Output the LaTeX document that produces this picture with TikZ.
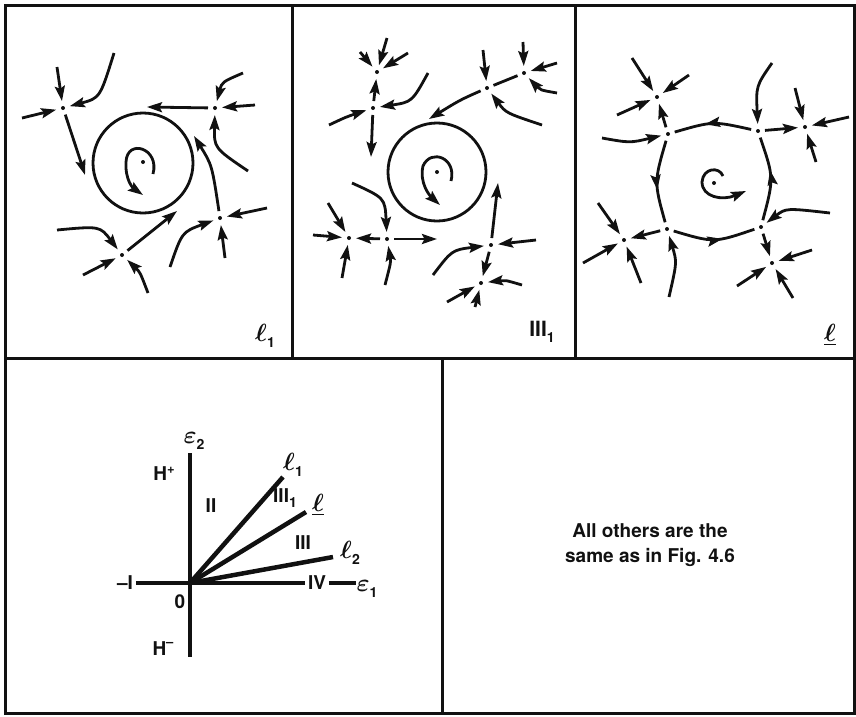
\documentclass[tikz,border=0pt]{standalone}
\usepackage{amsmath}
\usepackage{amssymb}
\usepackage{fontspec}
\setsansfont{TeX Gyre Heros}
\usepackage{tikz}
\usetikzlibrary{arrows.meta,decorations.markings,calc}
\definecolor{pen}{HTML}{111111}
\newcommand{\lowsub}[2]{#1\raisebox{-.55ex}{\fontsize{14}{14}\selectfont\sffamily\bfseries #2}}
\tikzset{
  >={Stealth[length=15pt,width=10pt,inset=2.5pt]},
  % --- frame and curves
  frame/.style = {line width=3pt, draw=pen},
  cyc/.style   = {line width=2.8pt, draw=pen},
  ax/.style    = {line width=4.5pt, draw=pen},
  % --- points
  sp/.style    = {circle, fill=pen, inner sep=0pt, minimum size=4pt, outer sep=5pt},
  % --- trajectories
  traj/.style  = {->, line width=2.8pt, draw=pen},
  conn/.style  = {line width=2.8pt, draw=pen},
  midar/.style = {conn, postaction={decorate},
                  decoration={markings, mark=at position 0.6 with {\arrow{>}}}},
  % --- text
  lbl/.style   = {font=\fontsize{19}{21}\selectfont\sffamily\bfseries, text=pen,
                  inner sep=1pt, outer sep=2pt},
  mlbl/.style  = {font=\fontsize{23}{25}\selectfont\boldmath, text=pen, inner sep=0.5pt},
}
\begin{document}
\begin{tikzpicture}[x=1pt,y=-1pt]
  \useasboundingbox (0,0) rectangle (856,716);
  % frame
  \draw[frame] (5,5) rectangle (854,713);
  \draw[frame] (5,358) -- (854,358);
  \draw[frame] (292,5) -- (292,358);
  \draw[frame] (575,5) -- (575,358);
  \draw[frame] (442,358) -- (442,713);

  % --- panel l_1
  \draw[cyc] (143,163) circle[radius=50];
  \node[sp] (fa) at (143,162) {};
  \draw[traj] (153,174) .. controls (160,148) and (127,138) .. (126,162)
                        .. controls (125,180) and (133,188) .. (143,195);
  \node[sp] (a1) at (63,108) {};
  \node[sp] (a2) at (215,108) {};
  \node[sp] (a3) at (220,218) {};
  \node[sp] (a4) at (122,255) {};
  \draw[traj] (57,67) -- (a1);
  \draw[traj] (114,53) .. controls (100,98) .. (a1);
  \draw[traj] (22,118) -- (a1);
  \draw[traj] (a1) .. controls (74,140) .. (85,175);
  \draw[traj] (a2) -- (147,107);
  \draw[traj] (243,73) .. controls (222,82) .. (a2);
  \draw[traj] (255,105) -- (a2);
  \draw[traj] (248,171) .. controls (214,148) .. (a2);
  \draw[traj] (a3) .. controls (212,165) .. (194,136);
  \draw[traj] (267,208) -- (a3);
  \draw[traj] (225,258) -- (a3);
  \draw[traj] (170,267) .. controls (182,232) .. (a3);
  \draw[traj] (a4) -- (177,211);
  \draw[traj] (57,230) .. controls (100,226) .. (a4);
  \draw[traj] (83,275) -- (a4);
  \draw[traj] (148,293) .. controls (140,272) .. (a4);
  \node[mlbl] (la) at (265,336) {\lowsub{$\ell$}{1}};

  % --- panel III_1
  \draw[cyc] (437,172) circle[radius=49];
  \node[sp] (fb) at (437,172) {};
  \draw[traj] (451,181) .. controls (457,158) and (431,148) .. (423,166)
                        .. controls (419,183) and (430,196) .. (440,205);
  \node[sp] (bA) at (377,72) {};
  \node[sp] (bB) at (373,108) {};
  \node[sp] (bC) at (487,88) {};
  \node[sp] (bD) at (524,73) {};
  \node[sp] (bE) at (349,238) {};
  \node[sp] (bF) at (387,239) {};
  \node[sp] (bG) at (491,245) {};
  \node[sp] (bH) at (481,283) {};
  \draw[traj] (387,38) -- (bA);
  \draw[traj] (360,52) -- (bA);
  \draw[traj] (408,53) -- (bA);
  \draw[traj] (bB) -- (bA);
  \draw[traj] (bB) -- (371,157);
  \draw[traj] (428,73) .. controls (412,102) .. (bB);
  \draw[traj] (329,125) .. controls (346,117) .. (bB);
  \draw[traj] (bC) .. controls (460,100) .. (429,119);
  \draw[conn] (bC) -- (bD);
  \draw[traj] (483,50) -- (bC);
  \draw[traj] (542,125) .. controls (506,113) .. (bC);
  \draw[traj] (523,42) -- (bD);
  \draw[traj] (557,63) -- (bD);
  \draw[traj] (557,93) .. controls (540,90) .. (bD);
  \draw[traj] (313,235) -- (bE);
  \draw[traj] (328,203) -- (bE);
  \draw[traj] (342,278) -- (bE);
  \draw[traj] (bF) -- (bE);
  \draw[traj] (bF) -- (437,239);
  \draw[traj] (352,183) .. controls (385,198) .. (bF);
  \draw[traj] (385,285) .. controls (391,262) .. (bF);
  \draw[traj] (bG) -- (498,183);
  \draw[traj] (bG) -- (bH);
  \draw[traj] (536,240) -- (bG);
  \draw[traj] (433,275) .. controls (452,250) .. (bG);
  \draw[traj] (522,285) .. controls (505,280) .. (bH);
  \draw[traj] (447,302) -- (bH);
  \draw[traj] (475,307) -- (bH);
  \node[lbl] (lb) at (542,332) {\fontsize{21}{21}\selectfont III\raisebox{-.5ex}{\fontsize{14}{14}\selectfont 1}};

  % --- panel l
  \node[sp] (fc) at (714,183) {};
  \draw[traj] (723,176) .. controls (719,166) and (703,168) .. (702,182)
                        .. controls (702,197) and (722,201) .. (746,191);
  \node[sp] (c1) at (668,134) {};
  \node[sp] (c2) at (758,131) {};
  \node[sp] (c3) at (667,229) {};
  \node[sp] (c4) at (761,227) {};
  \node[sp] (n1) at (657,97) {};
  \node[sp] (n2) at (805,127) {};
  \node[sp] (n3) at (624,240) {};
  \node[sp] (n4) at (772,263) {};
  \draw[midar] (c2) .. controls (713,121) .. (c1);
  \draw[midar] (c1) .. controls (654,182) .. (c3);
  \draw[midar] (c3) .. controls (714,243) .. (c4);
  \draw[midar] (c4) .. controls (774,178) .. (c2);
  \draw[traj] (c1) -- (n1);
  \draw[traj] (c2) -- (n2);
  \draw[traj] (c3) -- (n3);
  \draw[traj] (c4) -- (n4);
  \draw[traj] (602,138) .. controls (630,143) .. (c1);
  \draw[traj] (772,63) .. controls (756,86) .. (c2);
  \draw[traj] (669,297) .. controls (677,262) .. (c3);
  \draw[traj] (830,213) .. controls (786,208) .. (c4);
  \draw[traj] (632,58) -- (n1);
  \draw[traj] (689,75) -- (n1);
  \draw[traj] (617,115) -- (n1);
  \draw[traj] (795,88) -- (n2);
  \draw[traj] (849,117) -- (n2);
  \draw[traj] (816,162) -- (n2);
  \draw[traj] (598,203) -- (n3);
  \draw[traj] (583,263) -- (n3);
  \draw[traj] (641,283) -- (n3);
  \draw[traj] (812,250) -- (n4);
  \draw[traj] (737,286) -- (n4);
  \draw[traj] (793,298) -- (n4);
  \node[mlbl] (lc) at (830,335) {\underline{$\ell$}};

  % --- bifurcation diagram
  \coordinate (o) at (190,583);
  \coordinate (vtop) at (190,453);
  \coordinate (vbot) at (190,657);
  \coordinate (r1) at (283,477);
  \coordinate (r0) at (306,512);
  \coordinate (r2) at (333,557);
  \node[lbl] (mI) at (125,583) {--I};
  \node[lbl] (iv) at (317,583) {IV};
  \node[mlbl] (e1) at (367,589) {\lowsub{$\varepsilon$}{1}};
  \node[mlbl] (e2) at (194,441) {\lowsub{$\varepsilon$}{2}};
  \draw[ax] (vtop) -- (vbot);
  \draw[ax] (mI) -- (iv);
  \draw[ax] (iv.east) -- (iv.east -| e1.west);
  \draw[ax] (o) -- (r1);
  \draw[ax] (o) -- (r0);
  \draw[ax] (o) -- (r2);
  \node[lbl] (hp) at (164,474) {H\raisebox{.7ex}{\fontsize{13}{13}\selectfont +}};
  \node[lbl] (hm) at (163,649) {H\raisebox{.9ex}{\fontsize{13}{13}\selectfont --}};
  \node[lbl] (zero) at (180,602) {0};
  \node[lbl] (rII) at (211,506) {II};
  \node[lbl] (rIIIa) at (285,498) {III\raisebox{-.5ex}{\fontsize{14}{14}\selectfont 1}};
  \node[lbl] (rIII) at (303,543) {III};
  \node[mlbl] (t1) at (293,465) {\lowsub{$\ell$}{1}};
  \node[mlbl] (t0) at (318,505) {\underline{$\ell$}};
  \node[mlbl] (t2) at (350,553) {\lowsub{$\ell$}{2}};

  % --- note
  \node[lbl, align=center, font=\fontsize{19}{25}\selectfont\sffamily\bfseries]
    (note) at (650,545) {All others are the\\same as in Fig. 4.6};
\end{tikzpicture}
\end{document}
